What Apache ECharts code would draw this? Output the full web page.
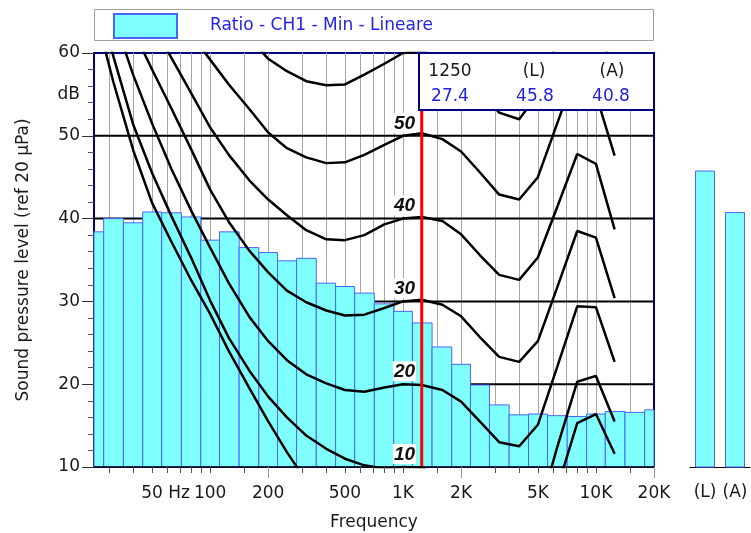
<!DOCTYPE html>
<html><head><meta charset="utf-8">
<script src="https://cdn.jsdelivr.net/npm/echarts@6/dist/echarts.min.js"></script>
<style>html,body{margin:0;padding:0;background:#fff}#c{width:751px;height:533px}</style>
</head><body><div id="c"></div>
<script>
// ---- data ----
const seriesName = 'Ratio - CH1 - Min - Lineare';
const bandFreqs = [25,31.5,40,50,63,80,100,125,160,200,250,315,400,500,630,800,1000,1250,1600,2000,2500,3150,4000,5000,6300,8000,10000,12500,16000,20000];
const bandLevels = [38.4,40.0,39.5,40.8,40.7,40.2,37.4,38.4,36.5,35.9,34.9,35.2,32.2,31.8,31.0,29.7,28.8,27.4,24.5,22.4,19.9,17.5,16.3,16.4,16.2,16.1,16.4,16.7,16.6,16.9];
const totalLabels = ['(L)','(A)'];
const totalLevels = [45.8,40.8];
const markerFreq = 1250;
const markerLevel = 27.4;
const infoHeader = ['1250','(L)','(A)'];
const infoValues = [markerLevel, totalLevels[0], totalLevels[1]];

const contourFreqs = [25,31.5,40,50,63,80,100,125,160,200,250,315,400,500,630,800,1000,1250,1600,2000,2500,3150,4000,5000,6300,8000,10000,12500];
const phon0  = [65.6,56.5,48.2,41.9,37.2,32.5,28.5,24.0,19.5,15.5,11.8,8.3,5.5,3.5,2.0,1.0,0.0,-0.5,-1.5,-3.0,-5.0,-6.0,-5.5,-3.0,7.4,15.3,16.4,11.6];
const phon10 = [68.6,59.6,51.3,45.5,40.3,35.2,30.1,25.6,21.6,18.5,16.0,13.8,12.2,11.0,10.2,9.8,10.0,9.9,9.0,7.5,5.2,3.0,2.5,4.1,12.4,20.3,21.0,15.5];
const phon20 = [71.3,64.4,57.3,51.5,46.0,40.9,36.5,32.2,28.1,25.2,22.9,21.2,20.1,19.3,19.1,19.6,20.0,19.9,19.3,17.9,15.5,13.0,12.5,15.1,22.1,29.4,29.3,22.7];
const phon30 = [73.5,68.0,62.7,58.0,53.3,48.3,43.5,39.6,36.1,33.5,31.3,29.9,28.9,28.3,28.4,29.2,30.0,30.2,29.6,28.2,25.7,23.3,22.7,25.2,31.7,38.5,37.7,30.4];
const phon40 = [77.5,72.7,67.9,63.6,59.4,55.1,51.0,47.7,44.6,42.3,40.4,38.6,37.5,37.4,38.0,39.3,40.0,40.2,39.7,38.1,35.6,33.2,32.6,35.3,41.4,47.8,46.6,38.7];
const phon50 = [82.2,78.3,73.6,69.5,65.9,62.2,59.2,56.2,53.2,50.4,48.5,47.4,46.7,46.8,47.7,48.9,50.0,50.3,49.6,48.1,45.6,42.9,42.3,45.0,51.5,58.2,55.0,47.6];
const phon60 = [90.0,86.7,82.5,79.0,75.5,72.0,68.8,65.8,61.8,59.3,57.8,56.6,56.1,56.2,57.4,58.7,60.0,60.2,59.6,58.1,55.5,52.8,52.0,55.0,61.5,68.0,65.0,57.0];
const contours = [phon0, phon10, phon20, phon30, phon40, phon50, phon60];
const phonLabelLevels = [10,20,30,40,50];
const phonLabelFreq = 1000;

const freqMin = 25, freqMax = 20000;
const levelMin = 10, levelMax = 60;
const gridFreqs = [30,40,50,60,70,80,90,100,150,200,300,400,500,600,700,800,900,1000,1500,2000,3000,4000,5000,6000,7000,8000,9000,10000,15000];
const gridLevels = [20,30,40,50];
const tickFreqs = gridFreqs.concat([20000]);
const longTickFreqs = [200,2000,20000];
const xLabelFreqs = [50,100,200,500,1000,2000,5000,10000,20000];
const xLabelTexts = ['50 Hz','100','200','500','1K','2K','5K','10K','20K'];
const unitLabel = 'dB';
const unitLevel = 55;

// ---- styles ----
const FONT = '"DejaVu Sans", Arial, sans-serif';
const barFill = '#80ffff';
const barStroke = '#4a64ff';

const chart = echarts.init(document.getElementById('c'), null, {renderer: 'canvas'});

function lineEl(x1,y1,x2,y2,stroke,w){
  return {type:'line', shape:{x1:x1,y1:y1,x2:x2,y2:y2}, style:{stroke:stroke, lineWidth:w}};
}
function snap(v){ return Math.round(v) + 0.5; }

const series = [];

// vertical grid lines
series.push({
  type:'custom', xAxisIndex:0, yAxisIndex:0, z:1, silent:true,
  data: gridFreqs.map(f => [f]),
  renderItem: function(params, api){
    const f = api.value(0);
    const a = api.coord([f, levelMax]), b = api.coord([f, levelMin]);
    const x = snap(a[0]);
    return lineEl(x, a[1], x, b[1], '#a6a6a6', 1);
  }
});
// horizontal grid lines
series.push({
  type:'custom', xAxisIndex:0, yAxisIndex:0, z:1, silent:true,
  data: gridLevels.map(v => [v]),
  renderItem: function(params, api){
    const v = api.value(0);
    const a = api.coord([freqMin, v]), b = api.coord([freqMax, v]);
    return lineEl(a[0], a[1], b[0], b[1], '#000', 2);
  }
});
// third-octave bars
series.push({
  type:'custom', name: seriesName, xAxisIndex:0, yAxisIndex:0, z:2, silent:true,
  itemStyle:{color:barFill, borderColor:barStroke, borderWidth:1},
  data: bandFreqs.map((f,i) => [f, bandLevels[i]]),
  renderItem: function(params, api){
    const i = params.dataIndex;
    const fc = api.value(0), v = api.value(1);
    const n = bandFreqs.length;
    let lo = i > 0 ? Math.sqrt(fc * bandFreqs[i-1]) : fc / Math.pow(10, 0.05);
    let hi = i < n-1 ? Math.sqrt(fc * bandFreqs[i+1]) : fc * Math.pow(10, 0.05);
    lo = Math.max(lo, freqMin); hi = Math.min(hi, freqMax);
    const p1 = api.coord([lo, v]), p2 = api.coord([hi, levelMin]);
    return {type:'rect', shape:{x:p1[0], y:p1[1], width:p2[0]-p1[0], height:p2[1]-p1[1]},
      style:{fill:barFill, stroke:barStroke, lineWidth:1}};
  }
});
// equal loudness contours
contours.forEach(function(arr){
  series.push({
    type:'line', xAxisIndex:0, yAxisIndex:0, z:3, silent:true,
    showSymbol:false, symbol:'none', clip:true, smooth:false,
    lineStyle:{color:'#000', width:2.5},
    data: contourFreqs.map((f,i) => [f, arr[i]])
  });
});
// phon labels
series.push({
  type:'custom', xAxisIndex:0, yAxisIndex:0, z:4, silent:true,
  data: phonLabelLevels.map(v => [phonLabelFreq, v]),
  renderItem: function(params, api){
    const p = api.coord([api.value(0), api.value(1)]);
    return {type:'text', x:p[0]+13, y:p[1]-3,
      style:{text:String(api.value(1)), fill:'#111', font:'italic bold 19px "Liberation Sans", Arial, sans-serif',
        align:'right', verticalAlign:'bottom', backgroundColor:'#fff', padding:[1,1,0,1]}};
  }
});
// marker line (1250 Hz)
series.push({
  type:'line', xAxisIndex:0, yAxisIndex:0, z:5, silent:true, symbol:'none', showSymbol:false,
  lineStyle:{color:'#ff0000', width:3},
  data:[[markerFreq, levelMin],[markerFreq, levelMax]]
});
// x axis base line, ticks and labels
series.push({
  type:'custom', xAxisIndex:0, yAxisIndex:0, z:6, silent:true, clip:false,
  data: tickFreqs.map(f => [f]),
  renderItem: function(params, api){
    const f = api.value(0);
    const p = api.coord([f, levelMin]);
    const isLong = longTickFreqs.indexOf(f) >= 0;
    const x = snap(p[0]);
    const children = [lineEl(x, p[1], x, p[1] + (isLong ? 11 : 6), isLong ? '#9a9a9a' : '#555', 1)];
    if (params.dataIndex === 0) {
      const a = api.coord([freqMin, levelMin]), b = api.coord([freqMax, levelMin]);
      children.push(lineEl(a[0], snap(a[1])-0.5, b[0], snap(b[1])-0.5, '#000', 1.5));
    }
    return {type:'group', children:children};
  }
});
series.push({
  type:'custom', xAxisIndex:0, yAxisIndex:0, z:6, silent:true, clip:false,
  data: xLabelFreqs.map(f => [f]),
  renderItem: function(params, api){
    const f = api.value(0);
    const p = api.coord([f, levelMin]);
    const txt = xLabelTexts[params.dataIndex];
    const unit = txt.indexOf(' ') >= 0;
    return {type:'text', x: unit ? p[0] - 10.8 : p[0], y: p[1] + 27,
      style:{text:txt, fill:'#1a1a1a', font:'17px ' + FONT, align: unit ? 'left' : 'center', verticalAlign:'middle'}};
  }
});
// unit label on y axis
series.push({
  type:'custom', xAxisIndex:0, yAxisIndex:0, z:6, silent:true, clip:false,
  data: [[freqMin, unitLevel]],
  renderItem: function(params, api){
    const p = api.coord([api.value(0), api.value(1)]);
    return {type:'text', x:p[0]-14, y:p[1],
      style:{text:unitLabel, fill:'#1a1a1a', font:'17px ' + FONT, align:'right', verticalAlign:'middle'}};
  }
});
// totals panel
series.push({
  type:'bar', xAxisIndex:1, yAxisIndex:1, z:2, silent:true, barWidth:20,
  itemStyle:{color:barFill, borderColor:barStroke, borderWidth:1},
  data: totalLevels
});

const option = {
  animation:false,
  backgroundColor:'#fff',
  textStyle:{fontFamily:FONT},
  legend:{
    data:[{name:seriesName, icon:'rect'}], left:113, top:13, itemWidth:63, itemHeight:24,
    selectedMode:false, padding:0,
    textStyle:{color:'#2323ee', fontSize:17, fontFamily:FONT, padding:[0,0,0,28]}
  },
  grid:[
    {left:94, right:97, top:53, bottom:66, show:true, borderColor:'#000080', borderWidth:2, backgroundColor:'#fff', containLabel:false, outerBoundsMode:'none'},
    {left:690, right:1, top:53, bottom:66, containLabel:false, outerBoundsMode:'none'}
  ],
  xAxis:[
    {type:'log', logBase:10, min:freqMin, max:freqMax, gridIndex:0,
      axisLine:{show:false}, axisTick:{show:false}, axisLabel:{show:false}, splitLine:{show:false}, minorTick:{show:false}, minorSplitLine:{show:false},
      name:'Frequency', nameLocation:'middle', nameGap:47,
      nameTextStyle:{fontSize:17, color:'#1a1a1a', fontFamily:FONT}},
    {type:'category', gridIndex:1, data: totalLabels,
      axisLine:{lineStyle:{color:'#000', width:1}}, axisTick:{show:false},
      axisLabel:{interval:0, hideOverlap:false, fontSize:17, color:'#1a1a1a', fontFamily:FONT, margin:17}}
  ],
  yAxis:[
    {type:'value', min:levelMin, max:levelMax, interval:10, gridIndex:0,
      axisLine:{show:false},
      axisTick:{show:true, length:12, lineStyle:{color:'#333'}},
      minorTick:{show:true, splitNumber:5, length:6, lineStyle:{color:'#555'}},
      splitLine:{show:false},
      axisLabel:{fontSize:17, color:'#1a1a1a', fontFamily:FONT, margin:14},
      name:'Sound pressure level (ref 20 µPa)', nameLocation:'middle', nameGap:62, nameRotate:90,
      nameTextStyle:{fontSize:17, color:'#1a1a1a', fontFamily:FONT}},
    {type:'value', min:levelMin, max:levelMax, gridIndex:1, show:false}
  ],
  graphic:[
    {type:'rect', z:1, shape:{x:94.5, y:9.5, width:559, height:31}, style:{fill:'#fff', stroke:'#a0a0a0', lineWidth:1}},
    {type:'group', z:100, children:[
      {type:'rect', z:100, shape:{x:419, y:53, width:235, height:57}, style:{fill:'#fff', stroke:'#000080', lineWidth:2}},
      {type:'text', z:101, x:450, y:72, style:{text:infoHeader[0], fill:'#1a1a1a', font:'17px '+FONT, align:'center', verticalAlign:'middle'}},
      {type:'text', z:101, x:534, y:72, style:{text:infoHeader[1], fill:'#1a1a1a', font:'17px '+FONT, align:'center', verticalAlign:'middle'}},
      {type:'text', z:101, x:612, y:72, style:{text:infoHeader[2], fill:'#1a1a1a', font:'17px '+FONT, align:'center', verticalAlign:'middle'}},
      {type:'text', z:101, x:450, y:97, style:{text:infoValues[0].toFixed(1), fill:'#2020e0', font:'17px '+FONT, align:'center', verticalAlign:'middle'}},
      {type:'text', z:101, x:535, y:97, style:{text:infoValues[1].toFixed(1), fill:'#2020e0', font:'17px '+FONT, align:'center', verticalAlign:'middle'}},
      {type:'text', z:101, x:611, y:97, style:{text:infoValues[2].toFixed(1), fill:'#2020e0', font:'17px '+FONT, align:'center', verticalAlign:'middle'}}
    ]}
  ],
  series: series
};
chart.setOption(option);
</script></body></html>
